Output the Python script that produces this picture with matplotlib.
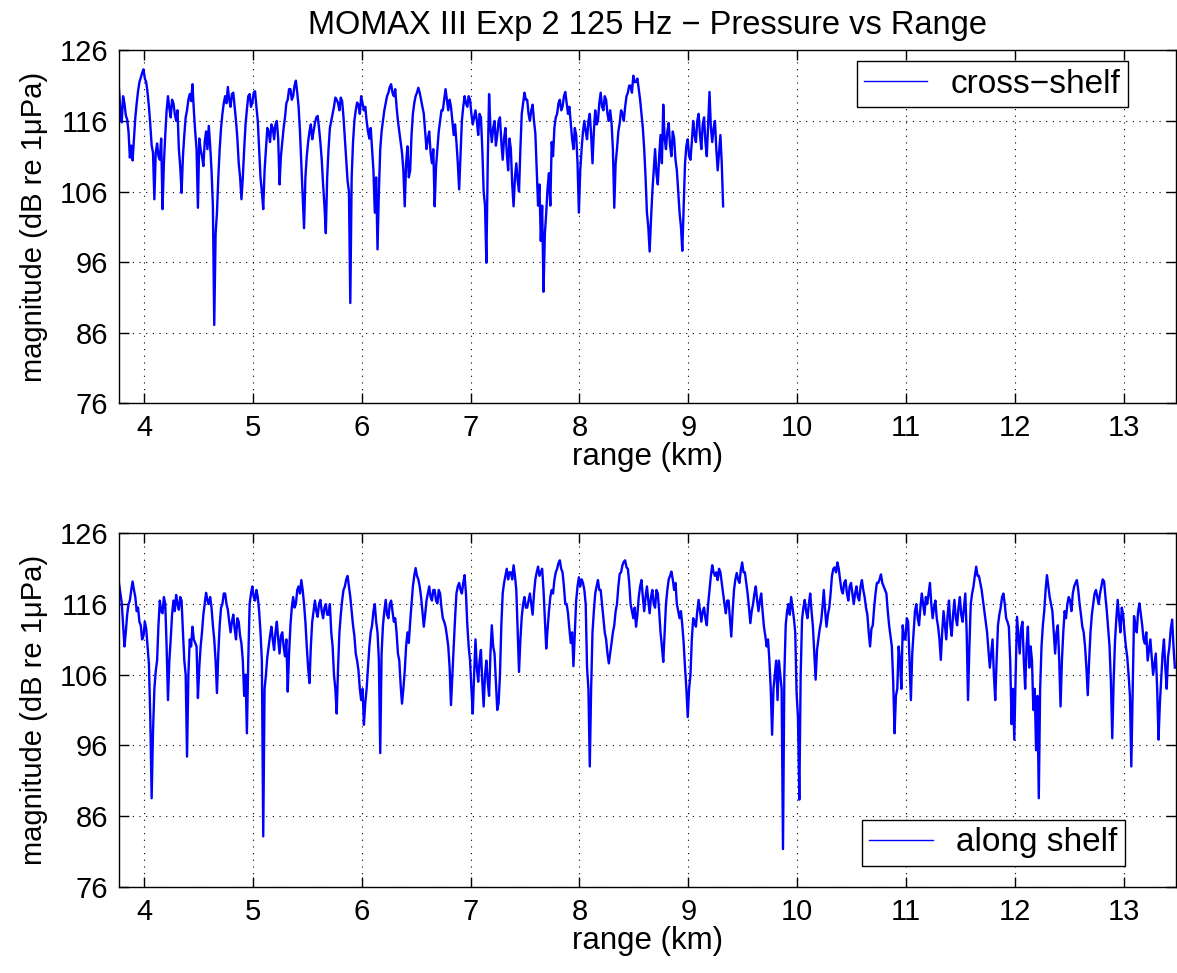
import numpy as np
import matplotlib
matplotlib.use("Agg")
import matplotlib.pyplot as plt

plt.rcParams['font.family'] = ['Liberation Sans', 'DejaVu Sans']

# Sample spacing of the range axis (km); readings are taken on a 0.025 km grid,
# with a second set of readings half-way between grid points.
range_start = 3.77
range_step = 0.025

# Cross-shelf receiver: magnitude (dB re 1 uPa) on the grid, one row per 0.25 km
cross_shelf_db = [
    120.5, 115.8, 118.5, 116.2, 110.8, 110.4, 116.5, 120.2, 122.1, 123.3,   # 3.77
    121.5, 118.0, 112.5, 104.9, 112.8, 110.5, 103.5, 114.0, 119.5, 116.5,   # 4.02
    118.5, 116.0, 112.0, 105.8, 114.0, 117.5, 119.8, 121.2, 114.5, 103.7,   # 4.27
    112.0, 109.6, 114.5, 115.3, 109.0, 87.1, 103.0, 112.0, 117.0, 119.5,    # 4.52
    120.8, 118.0, 120.0, 116.0, 110.0, 104.9, 112.0, 117.6, 119.8, 118.6,   # 4.77
    120.2, 116.0, 108.0, 103.5, 112.0, 114.5, 115.5, 113.4, 116.0, 107.0,   # 5.02
    113.0, 116.5, 119.0, 120.5, 119.5, 121.7, 118.0, 110.0, 100.8, 111.0,   # 5.27
    114.5, 113.4, 115.7, 116.7, 113.0, 107.0, 100.1, 112.0, 116.0, 118.0,   # 5.52
    119.0, 117.5, 118.8, 113.4, 107.5, 90.2, 113.0, 117.5, 118.3, 119.5,    # 5.77
    117.5, 116.0, 113.5, 112.0, 103.0, 97.8, 112.0, 116.0, 118.5, 120.0,    # 6.02
    121.2, 119.5, 118.0, 114.5, 111.5, 103.9, 112.4, 109.0, 117.0, 119.5,   # 6.27
    120.7, 119.0, 117.0, 112.0, 114.5, 110.0, 103.9, 112.0, 116.0, 117.5,   # 6.52
    120.5, 117.5, 118.0, 114.0, 113.0, 106.3, 116.0, 119.5, 118.0, 119.0,   # 6.77
    115.5, 117.5, 114.0, 116.5, 106.0, 95.9, 119.8, 113.0, 116.0, 114.0,    # 7.02
    116.5, 110.5, 115.0, 109.0, 112.0, 103.9, 110.0, 106.0, 117.0, 120.0,   # 7.27
    119.0, 116.0, 118.3, 114.2, 104.0, 99.0, 91.8, 103.0, 108.6, 113.0,     # 7.52
    115.0, 117.0, 119.0, 118.0, 120.1, 117.0, 115.7, 112.0, 114.0, 103.0,   # 7.77
    112.0, 116.0, 113.4, 117.0, 110.0, 117.5, 116.0, 120.0, 117.5, 119.0,   # 8.02
    116.0, 115.7, 103.7, 112.0, 115.7, 117.0, 118.0, 120.0, 121.0, 122.4,   # 8.27
    121.5, 120.5, 117.0, 112.0, 103.0, 97.5, 106.0, 112.0, 107.0, 114.0,    # 8.52
    118.3, 112.0, 115.7, 111.0, 113.5, 109.0, 103.0, 97.6, 110.0, 113.4,    # 8.77
    110.5, 116.0, 113.0, 117.0, 112.0, 116.5, 111.0, 120.1, 113.0, 116.0,   # 9.02
    109.0, 114.0, 103.9,                                                    # 9.27
]

# Cross-shelf readings half-way between grid points (first one at 3.7825 km)
cross_shelf_mid_db = [
    117.5, 119.5, 116.8, 114.5, 112.5, 113.5, 118.5, 121.5, 122.8, 122.0,   # 3.7825
    120.0, 115.5, 111.5, 111.5, 111.0, 113.5, 110.0, 117.5, 117.8, 119.0,   # 4.0325
    117.0, 117.5, 109.5, 111.0, 116.5, 119.0, 118.8, 117.5, 112.0, 113.5,   # 4.2825
    111.0, 113.0, 112.0, 112.5, 104.0, 100.0, 108.0, 115.0, 118.5, 118.5,   # 4.5325
    119.0, 119.8, 118.0, 113.5, 108.0, 108.0, 115.5, 119.5, 118.0, 120.0,   # 4.7825
    118.0, 112.0, 106.0, 109.0, 115.0, 113.0, 115.0, 115.5, 113.5, 111.0,   # 5.0325
    115.0, 118.5, 120.5, 119.0, 121.0, 120.0, 114.5, 105.5, 108.0, 113.0,   # 5.2825
    115.5, 114.5, 116.5, 115.0, 110.5, 104.0, 108.0, 115.0, 117.0, 119.3,   # 5.5325
    118.5, 119.3, 116.5, 110.5, 106.0, 108.0, 116.0, 118.6, 117.0, 118.5,   # 5.7825
    118.0, 114.5, 115.0, 109.0, 108.0, 106.0, 114.5, 117.5, 119.5, 120.8,   # 6.0325
    120.0, 120.5, 116.0, 113.0, 109.0, 110.0, 108.0, 114.0, 118.5, 120.0,   # 6.2825
    120.0, 118.0, 114.5, 113.5, 111.5, 112.0, 109.5, 114.5, 117.5, 119.0,   # 6.5325
    119.0, 119.0, 116.0, 115.5, 110.0, 111.0, 118.0, 118.5, 119.5, 117.0,   # 6.7825
    116.5, 116.0, 117.0, 112.0, 104.0, 110.0, 115.0, 115.0, 112.5, 116.0,   # 7.0325
    113.0, 113.5, 111.5, 113.5, 107.0, 108.0, 107.5, 112.0, 118.5, 119.0,   # 7.2825
    117.0, 117.5, 116.0, 109.0, 107.0, 104.0, 100.0, 106.5, 104.0, 111.0,   # 7.5325
    116.5, 118.5, 117.5, 119.5, 118.5, 118.0, 113.5, 115.0, 110.0, 109.0,   # 7.7825
    114.5, 114.5, 116.0, 114.0, 114.5, 115.5, 118.5, 118.0, 119.5, 117.0,   # 8.0325
    117.5, 112.0, 110.0, 114.5, 117.5, 116.0, 119.5, 121.0, 120.0, 121.5,   # 8.2825
    122.0, 119.0, 115.0, 108.0, 101.0, 102.0, 109.0, 108.5, 111.0, 110.0,   # 8.5325
    113.5, 114.5, 112.5, 114.5, 110.5, 106.0, 101.0, 104.0, 112.5, 111.0,   # 8.7825
    113.0, 114.0, 116.0, 114.0, 115.5, 113.0, 115.5, 115.0, 115.0, 112.0,   # 9.0325
    111.5, 110.0,                                                           # 9.2825
]

# Along-shelf receiver: magnitude (dB re 1 uPa) on the grid, one row per 0.25 km
along_shelf_db = [
    118.9, 116.2, 110.0, 114.5, 116.5, 119.2, 117.0, 115.5, 113.0, 111.5,   # 3.77
    112.5, 107.5, 88.5, 104.0, 108.0, 116.5, 114.7, 116.0, 102.4, 111.0,    # 4.02
    116.5, 117.3, 115.2, 116.5, 108.0, 94.4, 111.0, 112.8, 110.5, 102.7,    # 4.27
    110.0, 114.5, 117.6, 116.0, 115.5, 111.0, 103.4, 113.0, 116.0, 117.5,   # 4.52
    115.2, 112.0, 114.5, 111.0, 113.5, 110.4, 103.0, 97.7, 116.0, 118.5,    # 4.77
    116.5, 117.0, 112.0, 83.1, 106.0, 110.0, 112.8, 109.5, 113.5, 109.0,    # 5.02
    112.0, 108.6, 103.6, 113.0, 117.0, 116.0, 118.5, 119.4, 116.0, 110.0,   # 5.27
    104.8, 113.5, 116.5, 114.2, 116.6, 114.0, 116.0, 114.5, 112.0, 106.0,   # 5.52
    100.5, 112.0, 116.5, 118.5, 120.0, 117.0, 113.0, 109.0, 106.6, 102.4,   # 5.77
    98.9, 104.0, 110.0, 113.0, 116.0, 112.0, 94.9, 113.0, 116.6, 114.0,     # 6.02
    116.5, 113.5, 112.0, 108.0, 101.9, 106.5, 112.0, 113.5, 118.5, 121.1,   # 6.27
    119.5, 117.0, 112.8, 116.5, 118.5, 116.5, 118.0, 116.1, 117.5, 114.0,   # 6.52
    112.8, 110.0, 101.7, 110.0, 117.5, 119.0, 117.5, 120.1, 113.0, 108.0,   # 6.77
    100.5, 111.0, 105.0, 109.5, 101.5, 108.0, 103.0, 113.0, 109.0, 101.0,   # 7.02
    106.0, 117.5, 120.0, 119.5, 120.5, 121.5, 118.0, 106.4, 114.2, 117.0,   # 7.27
    115.5, 117.5, 114.5, 119.5, 121.3, 120.5, 118.0, 109.7, 115.0, 118.0,   # 7.52
    119.4, 121.0, 122.2, 120.5, 116.0, 114.7, 110.5, 107.2, 116.5, 119.8,   # 7.77
    119.5, 118.0, 107.0, 93.0, 112.0, 117.5, 119.4, 118.0, 114.0, 111.0,    # 8.02
    107.6, 110.5, 113.0, 116.0, 120.3, 121.5, 122.2, 121.0, 116.0, 114.0,   # 8.27
    112.8, 117.0, 119.4, 115.0, 118.5, 114.7, 118.0, 115.5, 117.5, 112.0,   # 8.52
    107.8, 116.0, 119.5, 120.6, 118.0, 116.0, 114.0, 113.0, 107.0, 100.0,   # 8.77
    106.0, 114.0, 112.8, 116.6, 113.5, 115.5, 113.0, 118.0, 121.5, 120.0,   # 9.02
    119.4, 120.5, 117.5, 114.7, 116.5, 111.4, 118.0, 120.4, 119.0, 121.9,   # 9.27
    120.5, 117.5, 113.3, 116.0, 118.5, 115.0, 117.5, 112.8, 110.0, 108.0,   # 9.52
    97.5, 106.0, 102.4, 106.0, 81.3, 113.0, 116.0, 117.0, 114.0, 103.4,     # 9.77
    88.3, 113.8, 116.6, 114.0, 117.5, 112.8, 105.3, 111.0, 113.5, 118.0,    # 10.02
    112.8, 115.5, 120.0, 121.2, 121.9, 119.4, 117.5, 119.4, 116.5, 119.0,   # 10.27
    116.0, 118.5, 116.5, 119.4, 117.0, 114.5, 110.0, 113.0, 117.5, 119.0,   # 10.52
    120.2, 118.5, 117.5, 113.0, 110.0, 97.7, 104.0, 108.0, 113.0, 111.0,    # 10.77
    113.5, 102.4, 112.0, 116.0, 113.0, 117.5, 114.5, 116.0, 119.0, 114.0,   # 11.02
    116.5, 112.8, 108.1, 115.0, 111.0, 116.5, 111.5, 116.6, 113.0, 117.0,   # 11.27
    113.5, 117.5, 102.4, 116.0, 118.5, 121.3, 120.0, 118.0, 115.0, 112.0,   # 11.52
    107.0, 111.0, 102.4, 113.0, 115.5, 117.5, 114.0, 112.8, 99.0, 96.8,     # 11.77
    114.2, 109.0, 113.5, 104.0, 112.8, 110.0, 101.0, 95.3, 88.5, 110.0,     # 12.02
    115.0, 120.1, 117.0, 115.0, 109.0, 113.0, 101.5, 112.0, 114.0, 117.0,   # 12.27
    115.0, 118.5, 119.4, 116.0, 112.8, 110.0, 103.1, 112.0, 116.0, 118.0,   # 12.52
    116.0, 118.5, 119.2, 115.0, 110.0, 97.0, 110.7, 116.6, 112.0, 114.5,    # 12.77
    110.0, 106.0, 93.0, 114.3, 112.0, 116.1, 113.0, 110.4, 108.0, 111.0,    # 13.02
    106.0, 109.0, 96.8, 105.5, 111.0, 104.0, 110.0, 113.8, 107.0,           # 13.27
]

# Along-shelf readings half-way between grid points (first one at 3.7825 km)
along_shelf_mid_db = [
    117.5, 113.0, 112.0, 116.0, 118.0, 118.0, 115.0, 113.5, 111.0, 113.5,   # 3.7825
    110.0, 100.0, 98.0, 106.5, 113.0, 115.0, 117.0, 110.0, 108.0, 114.5,    # 4.0325
    115.0, 116.0, 117.0, 112.0, 106.0, 106.0, 110.0, 111.0, 110.0, 107.0,   # 4.2825
    112.0, 116.0, 116.5, 117.0, 113.0, 108.0, 109.0, 115.5, 117.5, 116.0,   # 4.5325
    113.5, 113.5, 112.5, 114.0, 111.5, 108.0, 106.0, 108.0, 117.5, 117.0,   # 4.7825
    118.0, 115.0, 108.0, 104.0, 108.5, 111.5, 111.0, 112.0, 111.0, 111.5,   # 5.0325
    110.0, 111.0, 109.0, 115.5, 115.5, 118.0, 117.5, 118.0, 113.5, 107.0,   # 5.2825
    110.0, 115.0, 115.0, 116.0, 115.0, 115.5, 114.5, 116.0, 110.0, 104.0,   # 5.5325
    107.0, 114.5, 118.0, 119.5, 118.5, 115.0, 111.5, 108.0, 104.0, 104.0,   # 5.7825
    102.0, 107.0, 112.0, 115.0, 113.5, 108.0, 109.0, 115.0, 114.5, 116.0,   # 6.0325
    115.0, 114.0, 109.0, 104.5, 104.0, 110.0, 110.5, 116.0, 120.0, 120.0,   # 6.2825
    118.5, 115.0, 114.5, 117.5, 117.0, 118.0, 116.5, 118.0, 115.5, 113.5,   # 6.5325
    111.5, 107.0, 106.0, 114.0, 118.5, 118.0, 119.0, 117.5, 110.0, 104.0,   # 6.7825
    106.0, 107.0, 108.0, 105.0, 106.0, 105.0, 109.0, 110.0, 105.0, 102.0,   # 7.0325
    113.0, 119.0, 121.0, 120.5, 119.5, 120.0, 112.0, 111.0, 116.0, 115.5,   # 7.2825
    116.5, 116.0, 117.5, 120.5, 120.0, 121.0, 114.0, 112.5, 117.0, 117.5,   # 7.5325
    120.5, 121.8, 121.0, 118.5, 116.0, 112.5, 112.0, 112.0, 118.5, 118.5,   # 7.7825
    119.0, 116.0, 104.0, 104.0, 115.0, 118.5, 118.0, 116.0, 112.0, 109.0,   # 8.0325
    109.0, 112.0, 115.0, 118.5, 120.5, 122.0, 121.2, 119.0, 115.0, 115.5,   # 8.2825
    114.5, 118.5, 117.0, 117.0, 116.5, 117.0, 116.0, 118.0, 115.0, 110.0,   # 8.5325
    112.0, 118.0, 120.0, 119.5, 119.0, 115.0, 115.0, 110.5, 104.0, 104.0,   # 8.7825
    111.0, 113.5, 115.0, 115.0, 115.0, 114.0, 116.0, 120.0, 120.5, 120.5,   # 9.0325
    121.0, 119.0, 116.0, 116.5, 114.0, 115.0, 119.5, 119.5, 120.8, 120.5,   # 9.2825
    119.0, 115.5, 115.0, 117.5, 116.5, 116.5, 115.0, 111.5, 111.0, 104.0,   # 9.5325
    104.0, 108.0, 108.0, 104.0, 106.0, 115.0, 114.5, 115.5, 112.0, 100.0,   # 9.7825
    106.0, 115.5, 115.0, 116.0, 115.0, 109.0, 109.5, 112.5, 115.5, 115.0,   # 10.0325
    114.5, 117.5, 121.0, 120.5, 121.0, 118.0, 119.0, 117.5, 118.5, 117.5,   # 10.2825
    117.5, 117.0, 118.5, 118.0, 115.5, 112.0, 112.5, 115.5, 119.0, 119.5,   # 10.5325
    119.0, 118.0, 115.0, 111.5, 105.0, 103.0, 110.0, 104.0, 111.0, 114.0,   # 10.7825
    108.0, 109.0, 115.0, 114.0, 115.5, 116.0, 117.0, 117.5, 116.0, 115.5,   # 11.0325
    114.0, 111.0, 112.0, 113.0, 114.5, 113.0, 114.5, 114.0, 115.5, 114.5,   # 11.2825
    115.5, 112.0, 110.0, 117.5, 120.0, 120.0, 119.0, 116.5, 113.5, 109.5,   # 11.5325
    109.0, 106.0, 108.0, 114.5, 117.0, 116.0, 113.5, 108.0, 104.0, 106.0,   # 11.7825
    111.5, 112.5, 108.0, 110.0, 107.0, 108.0, 104.0, 103.0, 104.0, 113.0,   # 12.0325
    118.0, 118.5, 116.0, 112.0, 112.0, 108.0, 108.0, 115.0, 116.0, 116.5,   # 12.2825
    117.5, 119.0, 118.0, 114.5, 112.0, 107.0, 108.0, 114.5, 117.5, 117.0,   # 12.5325
    117.5, 119.5, 117.0, 112.5, 105.0, 105.0, 114.0, 114.0, 115.5, 112.0,   # 12.7825
    108.5, 103.0, 104.0, 113.0, 115.0, 114.5, 111.0, 112.0, 109.5, 108.5,   # 13.0325
    107.5, 104.0, 102.0, 109.0, 107.0, 108.5, 112.5, 110.0,                 # 13.2825
]


def interleave(grid_vals, mid_vals):
    """Merge grid readings and half-way readings into one ordered trace."""
    grid_vals = np.asarray(grid_vals, dtype=float)
    mid_vals = np.asarray(mid_vals, dtype=float)
    n = len(grid_vals)
    vals = np.empty(2 * n - 1)
    vals[0::2] = grid_vals
    vals[1::2] = mid_vals[: n - 1]
    km = range_start + 0.5 * range_step * np.arange(2 * n - 1)
    return km, vals


cross_range, cross_vals = interleave(cross_shelf_db, cross_shelf_mid_db)
along_range, along_vals = interleave(along_shelf_db, along_shelf_mid_db)

x_ticks = list(range(4, 14))
y_ticks = [76, 86, 96, 106, 116, 126]
x_limits = (3.77, 13.48)
y_limits = (76, 126)

title_text = "MOMAX III Exp 2 125 Hz \u2212 Pressure vs Range"
x_label = "range (km)"
y_label = "magnitude (dB re 1\u03bcPa)"

FS = 21
LABEL_FS = 22.5

fig = plt.figure(figsize=(11.77, 9.73), dpi=100)
ax_top = fig.add_axes([0.1011, 0.5855, 0.8980, 0.3628])
ax_bot = fig.add_axes([0.1011, 0.0889, 0.8980, 0.3628])


def style_axes(ax):
    ax.set_xlim(*x_limits)
    ax.set_ylim(*y_limits)
    ax.set_xticks(x_ticks)
    ax.set_yticks(y_ticks)
    ax.grid(True, linestyle=(0, (1, 5)), color='black', linewidth=0.8)
    ax.tick_params(direction='in', length=7, width=1, top=True, right=True,
                   labelsize=FS, pad=8)
    for s in ax.spines.values():
        s.set_linewidth(1.0)
    ax.set_xlabel(x_label, fontsize=LABEL_FS, labelpad=0)
    ax.set_ylabel(y_label, fontsize=FS, labelpad=8)


ax_top.plot(cross_range, cross_vals, color=(0, 0, 1), linewidth=1.7,
            label="cross\u2212shelf")
ax_bot.plot(along_range, along_vals, color=(0, 0, 1), linewidth=1.7,
            label="along shelf")

for ax in (ax_top, ax_bot):
    style_axes(ax)

ax_top.set_title(title_text, fontsize=23.5, pad=12)

leg_kw = dict(fontsize=24, fancybox=False, framealpha=1, edgecolor='black',
              borderaxespad=0, handlelength=1.9, handletextpad=0.7,
              borderpad=0.22)
lg1 = ax_top.legend(loc='upper right', bbox_to_anchor=(0.9545, 0.969), **leg_kw)
lg2 = ax_bot.legend(loc='lower right', bbox_to_anchor=(0.9515, 0.059), **leg_kw)
for lg in (lg1, lg2):
    lg.get_frame().set_linewidth(1.0)
    for h in lg.get_lines():
        h.set_linewidth(1.0)

fig.savefig("out.png", dpi=100)
